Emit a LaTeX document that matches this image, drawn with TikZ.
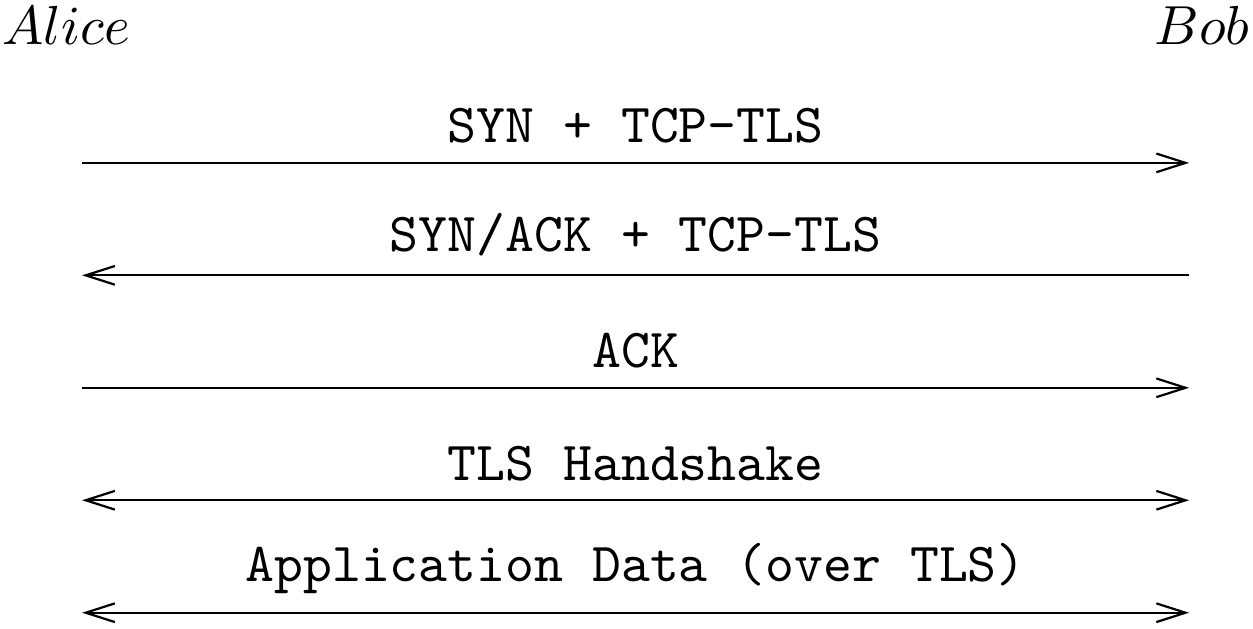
\documentclass[tikz,border=0pt]{standalone}
\usetikzlibrary{arrows.meta}
\tikzset{
  party name/.style={inner sep=0pt},
  message/.style={>={Straight Barb[length=5.3pt,width=3.4pt]},draw=black},
  message label/.style={midway,above,font=\ttfamily}
}

\begin{document}
\begin{tikzpicture}
  \useasboundingbox (0,0) rectangle (8,4.01);
  \node[party name,anchor=base west] (alice) at (0.01,3.723) {$Alice$};
  \node[party name,anchor=base east] (bob) at (7.985,3.723) {$Bob$};

  \coordinate (a1) at (0.524,2.970); \coordinate (b1) at (7.592,2.970);
  \coordinate (a2) at (0.524,2.252); \coordinate (b2) at (7.592,2.252);
  \coordinate (a3) at (0.524,1.534); \coordinate (b3) at (7.592,1.534);
  \coordinate (a4) at (0.524,0.816); \coordinate (b4) at (7.592,0.816);
  \coordinate (a5) at (0.524,0.098); \coordinate (b5) at (7.592,0.098);

  \draw[message,->] (a1) -- (b1) node[message label] {SYN + TCP-TLS};
  \draw[message,<-] (a2) -- (b2) node[message label] {SYN/ACK + TCP-TLS};
  \draw[message,->] (a3) -- (b3) node[message label] {ACK};
  \draw[message,<->] (a4) -- (b4) node[message label] {TLS Handshake};
  \draw[message,<->] (a5) -- (b5) node[message label] {Application Data (over TLS)};
\end{tikzpicture}
\end{document}
